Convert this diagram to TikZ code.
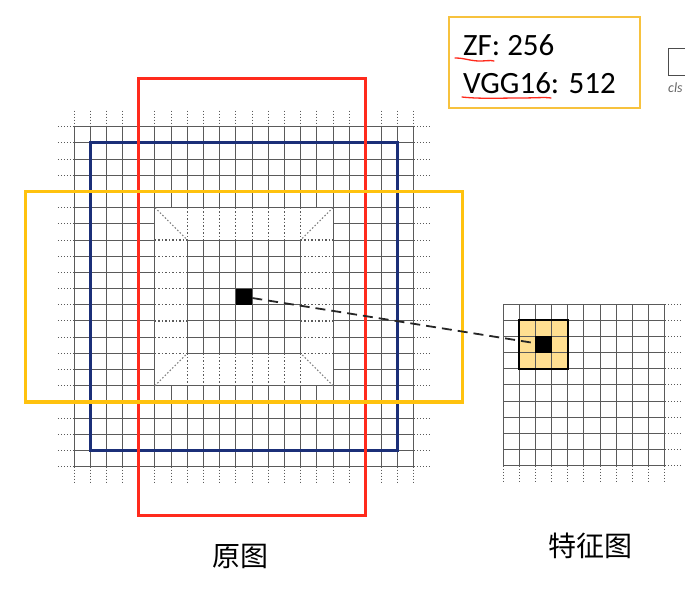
\documentclass[tikz,border=0pt]{standalone}
\usepackage{fontspec}
\setmainfont{Carlito}
\newfontfamily\cjk{Noto Sans CJK SC}
\definecolor{gridc}{HTML}{5A5A5A}
\definecolor{redc}{HTML}{FF2A1C}
\definecolor{bluec}{HTML}{1B2F78}
\definecolor{yelc}{HTML}{FFC20E}
\definecolor{hlc}{HTML}{FFDF91}
\definecolor{legc}{HTML}{F7C23E}
\tikzset{
  gline/.style={draw=gridc,line width=1pt},
  extline/.style={draw=gridc,line width=1pt,dash pattern=on 1.3pt off 1.7pt},
  ringline/.style={draw=gridc,line width=1.1pt,dash pattern=on 1.5pt off 2pt},
  diagline/.style={draw=gridc!80,line width=1pt,dash pattern=on 1.5pt off 2pt},
  framebox/.style={line width=3.2pt},
  blk/.style={fill=black,draw=none,minimum size=16.19pt,inner sep=0pt},
  conn/.style={draw=black!85,line width=1.8pt,dash pattern=on 10pt off 6pt},
  squig/.style={draw=redc,line width=1.3pt,line cap=round},
  legtext/.style={anchor=base west,inner sep=0pt,font=\fontsize{31}{37}\selectfont},
  cnlabel/.style={font=\cjk\fontsize{28}{32}\selectfont,inner sep=0pt}
}
\begin{document}
\begin{tikzpicture}[x=1pt,y=-1pt]
\useasboundingbox (0,0) rectangle (685,595);
\fill[white] (0,0) rectangle (685,595);
% ---------- main grid ----------
\begin{scope}[xshift=74pt,yshift=-126.7pt,x=16.19pt,y=-16.19pt]
  \foreach \i in {0,...,21} {
    \draw[extline] (\i,-1) -- (\i,0);
    \draw[extline] (\i,21) -- (\i,22);
    \draw[extline] (-1,\i) -- (0,\i);
    \draw[extline] (21,\i) -- (22,\i);
  }
  \foreach \i in {0,1,2,3,4,5,16,17,18,19,20,21} {
    \draw[gline] (\i,0) -- (\i,21);
    \draw[gline] (0,\i) -- (21,\i);
  }
  \foreach \i in {6,...,15} {
    \draw[gline] (\i,0) -- (\i,5);
    \draw[gline] (\i,16) -- (\i,21);
    \draw[gline] (0,\i) -- (5,\i);
    \draw[gline] (16,\i) -- (21,\i);
  }
  % ring (dotted)
  \foreach \i in {7,...,14} {
    \draw[ringline] (\i,5) -- (\i,7);
    \draw[ringline] (\i,14) -- (\i,16);
    \draw[ringline] (5,\i) -- (7,\i);
    \draw[ringline] (14,\i) -- (16,\i);
  }
  \draw[diagline] (5,5) -- (7,7);
  \draw[diagline] (16,5) -- (14,7);
  \draw[diagline] (5,16) -- (7,14);
  \draw[diagline] (16,16) -- (14,14);
  % inner solid grid
  \foreach \i in {7,...,14} {
    \draw[gline] (\i,7) -- (\i,14);
    \draw[gline] (7,\i) -- (14,\i);
  }
  % receptive field frames
  \draw[framebox,draw=bluec] (1,1) rectangle (20,20);
  \draw[framebox,draw=redc] (4,-3) rectangle (18,24);
  \draw[framebox,draw=yelc] (-3,4) rectangle (24,17);
  \node[blk] (src) at (10.5,10.5) {};
\end{scope}
% ---------- feature map ----------
\begin{scope}[xshift=503pt,yshift=-304pt,x=16.19pt,y=-16.19pt]
  \fill[hlc] (1,1) rectangle (4,4);
  \foreach \i in {0,...,10} {
    \draw[extline] (\i,10) -- (\i,11);
    \draw[extline] (10,\i) -- (11,\i);
    \draw[gline] (\i,0) -- (\i,10);
    \draw[gline] (0,\i) -- (10,\i);
  }
  \draw[line width=2.4pt,draw=black] (1,1) rectangle (4,4);
  \node[blk] (dst) at (2.5,2.5) {};
\end{scope}
% ---------- connector ----------
\draw[conn] (src) -- (dst);
% ---------- legend ----------
\draw[draw=legc,line width=1.8pt] (449,17) rectangle (640,108);
\node[legtext] (zf) at (463,55) {ZF: 256};
\node[legtext] (vgg) at (463,93) {VGG16: 512};
\draw[squig] (455,58) .. controls (465,58) and (470,61) .. (480,61) .. controls (486,61) and (490,60) .. (494,61);
\draw[squig] (462,97) .. controls (480,99) and (500,98) .. (520,98) .. controls (535,98) and (545,97) .. (551,98);
% partial element at right edge
\draw[draw=black!70,line width=0.9pt] (668,48) rectangle (700,75);
\node[anchor=base west,inner sep=0pt,text=black!60,font=\itshape\fontsize{14}{16}\selectfont] (cls) at (668,92) {cls};
% ---------- labels ----------
\node[cnlabel] (orig) at (240,556) {原图};
\node[cnlabel] (feat) at (590,546) {特征图};
\end{tikzpicture}
\end{document}
